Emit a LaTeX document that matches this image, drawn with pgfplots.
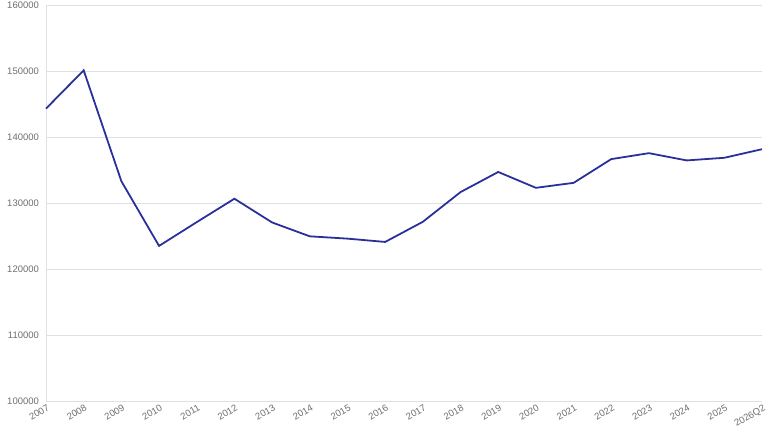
\documentclass[border=0pt]{standalone}
\usepackage{fontspec}
\setmainfont{Liberation Sans}
\usepackage{pgfplots}
\pgfplotsset{compat=1.18}
\usetikzlibrary{calc}
\definecolor{series}{HTML}{2A2F9A}
\definecolor{gridc}{HTML}{DDE1E4}
\definecolor{textc}{HTML}{6E6E6E}

\begin{document}
\begin{tikzpicture}
\begin{axis}[
  scale only axis,
  width=716bp, height=396bp,
  xmin=0, xmax=19,
  ymin=100000, ymax=160000,
  ytick={100000,110000,...,160000},
  scaled y ticks=false,
  xtick={0,...,19},
  xticklabels={2007,2008,2009,2010,2011,2012,2013,2014,2015,2016,2017,2018,2019,2020,2021,2022,2023,2024,2025,2026Q2},
  x tick label style={rotate=30, anchor=north east, inner sep=1pt, yshift=-2pt},
  y tick label style={inner sep=1pt, xshift=-6pt},
  /pgf/number format/fixed,
  /pgf/number format/1000 sep={},
  /pgf/number format/assume math mode=true,
  tick label style={font=\fontsize{9.5}{11}\selectfont, text=textc},
  ymajorgrids, major grid style={gridc, line width=0.6pt},
  axis x line*=bottom, axis y line*=left,
  axis line style={gridc, line width=0.6pt},
  major tick length=0pt,
  clip=false,
]
\addplot[series, line width=1.8pt, mark=none] coordinates {
  (0,144300) (1,150100) (2,133300) (3,123500) (4,127100)
  (5,130650) (6,127050) (7,124950) (8,124600) (9,124100)
  (10,127150) (11,131650) (12,134700) (13,132300) (14,133050)
  (15,136650) (16,137550) (17,136450) (18,136850) (19,138150)
};
\coordinate (ll) at (rel axis cs:0,0);
\coordinate (ur) at (rel axis cs:1,1);
\end{axis}
\pgfresetboundingbox
\path ($(ll)+(-46bp,-31bp)$) rectangle ($(ur)+(6bp,5bp)$);
\end{tikzpicture}
\end{document}
